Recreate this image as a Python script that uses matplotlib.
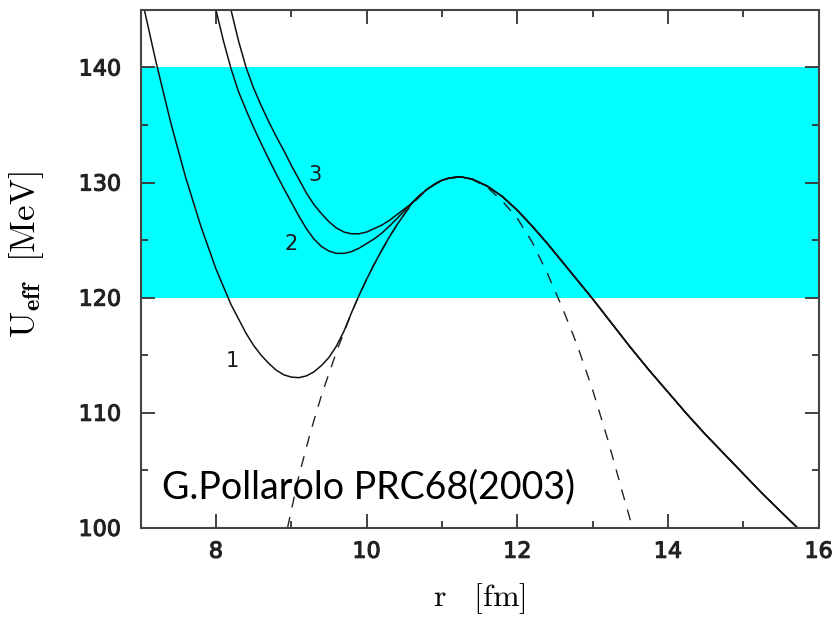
import matplotlib.pyplot as plt
import matplotlib.patheffects as pe
from matplotlib.ticker import MultipleLocator

plt.rcParams['mathtext.fontset'] = 'cm'

# bare barrier (dashed)
r_bar = [8.95, 9.1, 9.25, 9.4, 9.5, 9.6, 9.7, 9.8, 9.9, 10.0, 10.1, 10.2, 10.3, 10.4, 10.5,
         10.6, 10.8, 11.0, 11.2, 11.4, 11.6, 11.8, 12.0, 12.2, 12.4, 12.6, 12.8, 13.0,
         13.2, 13.4, 13.53]
u_bar = [100.0, 104.5, 108.2, 111.5, 113.4, 115.3, 117.0, 118.7, 120.2, 121.6, 122.9, 124.1,
         125.25, 126.3, 127.25, 128.1, 129.4, 130.2, 130.5, 130.3, 129.6, 128.4, 126.9, 124.8,
         122.1, 119.1, 115.8, 112.0, 107.7, 103.0, 100.0]

# common outer part of the effective potentials
r_out = [10.6, 10.7, 10.8, 10.9, 11.0, 11.1, 11.25, 11.4, 11.6, 11.8, 12.0, 12.2, 12.4, 12.6,
         12.8, 13.0, 13.25, 13.5, 13.75, 14.0, 14.25, 14.5, 14.75, 15.0, 15.25, 15.5, 15.72]
u_out = [128.2, 128.85, 129.4, 129.85, 130.2, 130.4, 130.5, 130.3, 129.7, 128.8, 127.6, 126.2,
         124.7, 123.1, 121.5, 119.9, 117.8, 115.7, 113.7, 111.8, 109.9, 108.1, 106.4, 104.7,
         103.0, 101.4, 100.0]

# inner parts, curves 1-3
r1 = [7.05, 7.2, 7.4, 7.6, 7.8, 8.0, 8.2, 8.4, 8.5, 8.6, 8.7, 8.8, 8.9, 9.0, 9.1, 9.2,
      9.3, 9.4, 9.5, 9.6, 9.7, 9.8, 9.9, 10.0, 10.1, 10.2, 10.3, 10.4, 10.5]
u1 = [145.0, 140.6, 135.2, 130.4, 126.2, 122.5, 119.4, 116.9, 115.85, 115.0, 114.3, 113.7,
      113.3, 113.1, 113.05, 113.2, 113.55, 114.1, 114.8, 115.8, 117.1, 118.7, 120.2, 121.6,
      122.9, 124.1, 125.25, 126.3, 127.25]

r2 = [8.0, 8.1, 8.2, 8.3, 8.4, 8.5, 8.6, 8.7, 8.8, 8.9, 9.0, 9.1, 9.2, 9.3, 9.4, 9.5,
      9.6, 9.7, 9.8, 9.9, 10.0, 10.1, 10.2, 10.3, 10.4, 10.5]
u2 = [145.0, 142.3, 139.9, 137.9, 136.3, 134.8, 133.4, 132.05, 130.75, 129.5, 128.3, 127.1,
      126.0, 125.1, 124.45, 124.05, 123.85, 123.85, 124.0, 124.3, 124.7, 125.1, 125.6, 126.2,
      126.85, 127.55]

r3 = [8.2, 8.3, 8.4, 8.5, 8.6, 8.7, 8.8, 8.9, 9.0, 9.1, 9.2, 9.3, 9.4, 9.5, 9.6, 9.7,
      9.8, 9.9, 10.0, 10.1, 10.2, 10.3, 10.4, 10.5]
u3 = [145.0, 142.3, 140.0, 138.2, 136.7, 135.3, 134.0, 132.8, 131.5, 130.3, 129.1, 128.1,
      127.3, 126.6, 126.05, 125.7, 125.55, 125.55, 125.7, 126.0, 126.3, 126.7, 127.2, 127.7]

labels = ['1', '2', '3']
label_r = [8.22, 9.0, 9.31]
label_u = [114.5, 124.7, 130.7]

fig = plt.figure(figsize=(8.37, 6.21), dpi=100)
ax = fig.add_axes([0.168, 0.150, 0.810, 0.834])

ax.axhspan(120, 140, color='#00ffff', lw=0, zorder=0)

ax.plot(r_bar, u_bar, color='#222222', lw=1.0, dashes=(8, 7))
for rr, uu in [(r1, u1), (r2, u2), (r3, u3)]:
    ax.plot(rr + r_out, uu + u_out, color='#111111', lw=1.1)

for t, x, y in zip(labels, label_r, label_u):
    ax.text(x, y, t, fontsize=15, family='DejaVu Sans', ha='center', va='center', color='#1a1a1a')

ax.text(7.28, 102.6, 'G.Pollarolo PRC68(2003)', fontsize=27, family='Lato', ha='left', va='baseline')

ax.set_xlim(7, 16)
ax.set_ylim(100, 145)
ax.xaxis.set_major_locator(MultipleLocator(2))
ax.xaxis.set_minor_locator(MultipleLocator(1))
ax.yaxis.set_major_locator(MultipleLocator(10))
ax.yaxis.set_minor_locator(MultipleLocator(5))
ax.tick_params(which='both', direction='in', top=True, right=True, color='#333333', width=1.3)
ax.tick_params(which='major', length=10, labelsize=16)
ax.tick_params(axis='y', which='major', pad=14)
ax.tick_params(axis='x', which='major', pad=10)
ax.tick_params(which='minor', length=5)
# slightly heavier than the regular face
thick = [pe.withStroke(linewidth=0.8, foreground='#222222')]
for lab in ax.get_xticklabels() + ax.get_yticklabels():
    lab.set_family('DejaVu Sans')
    lab.set_color('#222222')
    lab.set_path_effects(thick)
for s in ax.spines.values():
    s.set_linewidth(1.5)
    s.set_color('#444444')

ax.set_xlabel(r'$\mathrm{r}\quad[\mathrm{fm}]$', fontsize=23)
ax.set_ylabel(r'$\mathrm{U}_{\mathbf{eff}}\ \ [\mathrm{MeV}]$', fontsize=25)
ax.xaxis.set_label_coords(0.5, -0.103)
ax.yaxis.set_label_coords(-0.14, 0.527)

fig.savefig('out.png', dpi=100)
